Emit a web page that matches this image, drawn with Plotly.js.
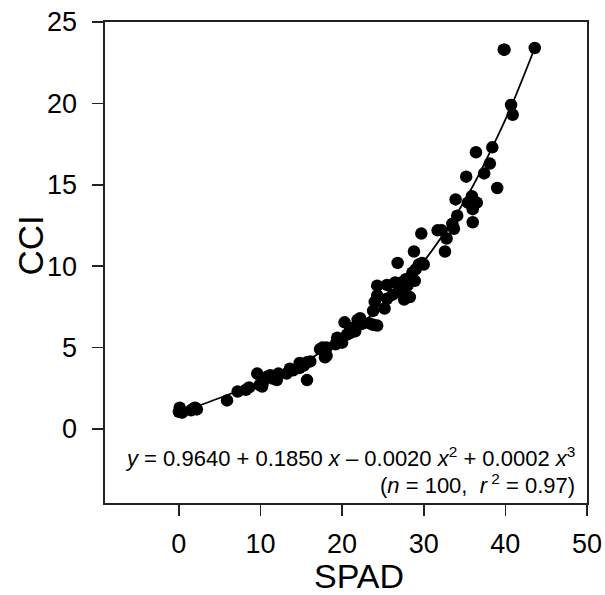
<!DOCTYPE html>
<html>
<head>
<meta charset="utf-8">
<script src="https://cdn.plot.ly/plotly-3.0.1.min.js"></script>
<style>html,body{margin:0;padding:0;background:#fff;}#chart{width:605px;height:595px;}</style>
</head>
<body>
<div id="chart"></div>
<script>
const spad = [
  0.0, 0.1, 0.2, 0.4, 1.5, 1.8, 2.2, 2.0,
  5.9, 7.2, 8.2, 8.6,
  9.6, 10.2, 10.3, 9.9, 10.8, 11.2, 12.0, 12.2, 11.5,
  13.2, 13.6, 14.0, 14.8, 14.8, 15.7, 15.7, 16.1, 15.3,
  17.3, 17.6, 18.1, 17.9, 18.1, 19.4, 19.7, 20.0, 19.2,
  20.3, 20.6, 21.0, 21.0, 21.6, 21.9, 22.4, 22.2, 23.3, 23.8, 24.3, 23.8, 24.0, 24.3, 24.3,
  25.2, 25.5, 25.5, 26.2, 26.5, 26.8, 27.3, 27.5, 27.0, 27.6, 28.3, 28.6, 28.0, 27.8,
  28.8, 28.9, 29.0, 29.4, 29.8, 29.7, 30.0,
  31.7, 32.2, 32.6, 32.8, 33.7, 33.9, 34.1, 33.5,
  35.2, 35.4, 35.9, 36.0, 36.0, 36.5, 36.4, 35.7,
  37.4, 38.1, 38.4, 39.0, 40.7, 40.9,
  39.8, 43.6, 39.9
];
const cci = [
  1.05, 1.3, 1.1, 1.0, 1.15, 1.25, 1.2, 1.3,
  1.75, 2.3, 2.4, 2.55,
  3.4, 2.6, 2.85, 2.7, 3.2, 3.3, 3.0, 3.4, 3.1,
  3.4, 3.7, 3.6, 3.75, 4.05, 3.0, 4.1, 4.15, 3.9,
  4.9, 5.0, 5.0, 4.4, 4.5, 5.6, 5.5, 5.3, 5.2,
  6.55, 5.8, 6.2, 5.9, 6.0, 6.7, 6.45, 6.8, 6.5, 6.4, 6.35, 7.25, 7.8, 8.2, 8.8,
  7.4, 8.0, 8.85, 8.25, 9.0, 10.2, 9.0, 8.3, 8.7, 7.95, 8.1, 9.6, 8.8, 9.2,
  10.9, 9.1, 9.8, 10.1, 10.2, 12.0, 10.1,
  12.2, 12.2, 10.9, 11.7, 12.3, 14.1, 13.1, 12.6,
  15.5, 13.9, 14.3, 13.5, 12.7, 13.9, 17.0, 14.0,
  15.7, 16.3, 17.3, 14.8, 19.9, 19.3,
  23.3, 23.4, 23.3
];
// Fitted curve, sampled from the line in the picture
const fitX = [0, 5, 10, 15, 20, 25, 30, 33, 36, 38.4, 40.7, 43.6];
const fitY = [1.0, 1.9, 2.9, 4.0, 5.6, 7.6, 10.3, 12.4, 14.9, 17.3, 19.8, 23.4];
const xTicks = [0, 10, 20, 30, 40, 50];
const yTicks = [0, 5, 10, 15, 20, 25];
const xTitle = 'SPAD';
const yTitle = 'CCI';
const eqLine1 = '<i>y</i> = 0.9640 + 0.1850 <i>x</i> – 0.0020 <i>x</i><sup>2</sup> + 0.0002 <i>x</i><sup>3</sup>';
const eqLine2 = '(<i>n</i> = 100,  <i>r</i><sup> 2</sup> = 0.97)';

const font = 'Liberation Sans, Arial, sans-serif';
const lineCol = '#222';

const traces = [
  {x: fitX, y: fitY, mode: 'lines', line: {color: '#000', width: 1.8, shape: 'spline'}, hoverinfo: 'skip', showlegend: false},
  {x: spad, y: cci, mode: 'markers', marker: {color: '#000', size: 12.5}, showlegend: false}
];

const axisCommon = {
  showgrid: false, zeroline: false, showline: true, mirror: true,
  linecolor: lineCol, linewidth: 1.6, ticks: 'outside', ticklen: 11, tickwidth: 1.6, tickcolor: lineCol,
  tickfont: {family: font, size: 27, color: '#000'}
};

const layout = {
  width: 605, height: 595,
  margin: {l: 105, r: 18, t: 22, b: 92},
  paper_bgcolor: '#fff', plot_bgcolor: '#fff',
  font: {family: font, color: '#000'},
  xaxis: Object.assign({}, axisCommon, {
    range: [-9.05, 50], tickvals: xTicks, ticktext: xTicks.map(String),
    ticklabelstandoff: 5
  }),
  yaxis: Object.assign({}, axisCommon, {
    range: [-4.55, 25], tickvals: yTicks, ticktext: yTicks.map(String),
    ticklabelstandoff: 10
  }),
  annotations: [
    {xref: 'paper', yref: 'paper', x: 0.527, y: -0.1518, xanchor: 'center', yanchor: 'middle', showarrow: false,
     borderpad: 0, text: xTitle, font: {family: font, size: 34, color: '#000'}},
    {xref: 'paper', yref: 'paper', x: -0.155, y: 0.536, xanchor: 'center', yanchor: 'middle', showarrow: false,
     borderpad: 0, textangle: -90, text: yTitle, font: {family: font, size: 35, color: '#000'}},
    {xref: 'x', yref: 'y', x: 48.8, y: -1.72, xanchor: 'right', yanchor: 'middle', showarrow: false,
     text: eqLine1, font: {family: font, size: 22, color: '#000'}},
    {xref: 'x', yref: 'y', x: 48.8, y: -3.38, xanchor: 'right', yanchor: 'middle', showarrow: false,
     text: eqLine2, font: {family: font, size: 22, color: '#000'}}
  ]
};

Plotly.newPlot('chart', traces, layout, {displayModeBar: false, staticPlot: true});
</script>
</body>
</html>
